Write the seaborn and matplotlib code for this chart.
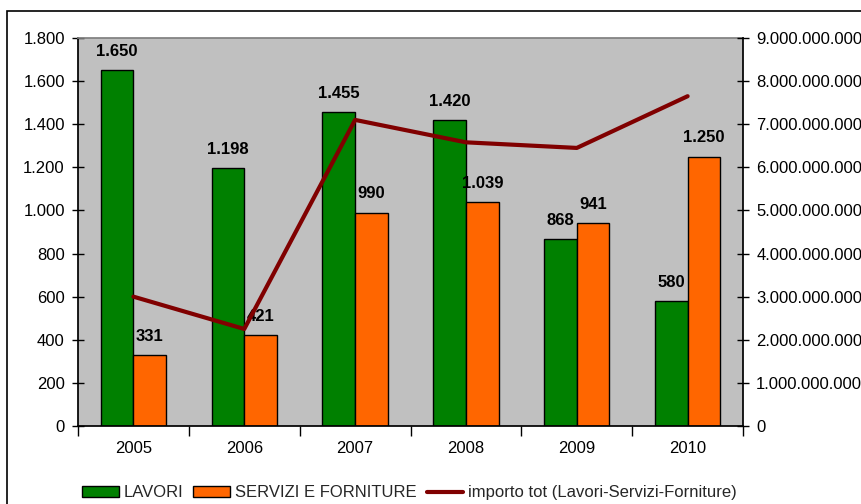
import matplotlib
matplotlib.use("Agg")
import matplotlib.pyplot as plt
import matplotlib.patches as mpatches
from matplotlib.lines import Line2D
from matplotlib.ticker import FuncFormatter, FixedLocator
import seaborn as sns
import pandas as pd

years = ["2005", "2006", "2007", "2008", "2009", "2010"]
lavori = [1650, 1198, 1455, 1420, 868, 580]
servizi = [331, 421, 990, 1039, 941, 1250]
importo_tot = [3.0e9, 2.25e9, 7.1e9, 6.58e9, 6.45e9, 7.65e9]

s_lav = "LAVORI"
s_ser = "SERVIZI E FORNITURE"
s_imp = "importo tot (Lavori-Servizi-Forniture)"

sns.set_theme(style="white")
plt.rcParams["font.family"] = ["Liberation Sans", "DejaVu Sans"]

def it_fmt(v, pos=None):
    return f"{int(round(v)):,}".replace(",", ".")

df = pd.DataFrame({
    "anno": years * 2,
    "valore": lavori + servizi,
    "serie": [s_lav] * len(years) + [s_ser] * len(years),
})

fig = plt.figure(figsize=(8.62, 5.04), dpi=100)
ax = fig.add_axes([0.0905, 0.1548, 0.862 - 0.0905, 0.9246 - 0.1548])
ax.set_facecolor("#C0C0C0")

green = "#008000"
orange = "#FF6600"
dred = "#800000"

sns.barplot(data=df, x="anno", y="valore", hue="serie", order=years,
            hue_order=[s_lav, s_ser], palette=[green, orange],
            width=0.59, edgecolor="black", linewidth=1.0, saturation=1,
            legend=False, ax=ax)

for cont in ax.containers:
    for bar in cont:
        h = bar.get_height()
        ax.annotate(it_fmt(h), (bar.get_x() + bar.get_width() / 2, h),
                    xytext=(0, 8), textcoords="offset points",
                    ha="center", va="bottom", fontsize=12, fontweight="bold",
                    color="black")

ax.set_ylim(0, 1800)
ax.set_xlim(-0.5, len(years) - 0.5)
ax.yaxis.set_major_locator(FixedLocator(range(0, 1801, 200)))
ax.yaxis.set_major_formatter(FuncFormatter(it_fmt))
ax.set_xlabel("")
ax.set_ylabel("")

ax2 = ax.twinx()
sns.lineplot(x=list(range(len(years))), y=importo_tot, color=dred,
             linewidth=3, ax=ax2, legend=False)
ax2.set_ylim(0, 9e9)
ax2.yaxis.set_major_locator(FixedLocator([i * 1e9 for i in range(10)]))
ax2.yaxis.set_major_formatter(FuncFormatter(it_fmt))
ax2.set_ylabel("")
ax2.set_xlim(-0.5, len(years) - 0.5)

for a in (ax, ax2):
    for side in ("left", "right", "bottom", "top"):
        a.spines[side].set_visible(False)
ax.spines["left"].set_visible(True)
ax.spines["left"].set_color("black")
ax.spines["bottom"].set_visible(True)
ax.spines["bottom"].set_color("black")
ax.spines["top"].set_visible(True)
ax.spines["top"].set_color("#808080")
ax2.spines["right"].set_visible(True)
ax2.spines["right"].set_color("black")

ax.tick_params(axis="y", which="major", direction="inout", length=9, width=1,
               color="black", labelsize=12, pad=5, left=True)
ax2.tick_params(axis="y", which="major", direction="inout", length=9, width=1,
                color="black", labelsize=12, pad=5, right=True)
ax.set_xticks(range(len(years)))
ax.set_xticklabels(years)
ax.tick_params(axis="x", which="major", length=0, labelsize=12, pad=11)
ax.set_xticks([i - 0.5 for i in range(len(years) + 1)], minor=True)
ax.tick_params(axis="x", which="minor", direction="out", length=7, width=1,
               color="black", bottom=True)
for lab in ax.get_yticklabels() + ax2.get_yticklabels():
    lab.set_color("black")
for lab in ax.get_xticklabels():
    lab.set_color("black")
ax2.grid(False)
ax.grid(False)

handles = [
    mpatches.Patch(facecolor=green, edgecolor="black", label=s_lav),
    mpatches.Patch(facecolor=orange, edgecolor="black", label=s_ser),
    Line2D([0], [0], color=dred, linewidth=3, label=s_imp),
]
fig.legend(handles=handles, loc="center", bbox_to_anchor=(0.475, 0.022),
           ncol=3, frameon=False, handlelength=2.2,
           handletextpad=0.3, columnspacing=0.6,
           prop={"family": ["Liberation Sans Narrow", "Liberation Sans"], "size": 12})

border = mpatches.Rectangle((7 / 862, -0.05), 1.1, (504 - 11) / 504 + 0.05,
                            transform=fig.transFigure, fill=False,
                            edgecolor="black", linewidth=1.2, clip_on=False)
fig.patches.append(border)

fig.savefig("out.png", dpi=100)
